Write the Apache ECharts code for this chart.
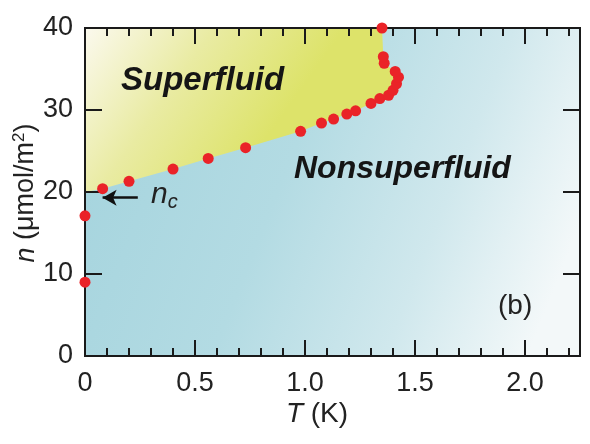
<!DOCTYPE html>
<html lang="en">

<head>
    <meta charset="UTF-8">
    <title>Superfluid phase diagram</title>
    <script src="https://cdn.jsdelivr.net/npm/echarts/dist/echarts.min.js"></script>
    <style>
        html, body { margin: 0; padding: 0; background: #fff; }
    </style>
</head>

<body>
    <div id="chart" style="width: 590px; height: 444px;"></div>
    <script>
        // measured points (T in K, n in umol/m2), in order along the boundary
        const tempK = [0, 0, 0.08, 0.2, 0.4, 0.56, 0.73, 0.98, 1.075, 1.13, 1.19, 1.23, 1.30, 1.34, 1.38, 1.40, 1.416, 1.425, 1.41, 1.36, 1.356, 1.35];
        const density = [9.0, 17.1, 20.4, 21.3, 22.8, 24.1, 25.4, 27.4, 28.4, 28.9, 29.5, 29.9, 30.8, 31.4, 31.8, 32.4, 33.2, 34.0, 34.7, 35.7, 36.5, 40.0];

        // superfluid region closes along the top edge and the left edge
        const regionStart = [0, 20];
        const regionTopLeft = [0, 40];

        // n_c arrow
        const arrowFrom = [0.24, 19.3];
        const arrowTo = [0.08, 19.3];

        // axis ranges and tick positions
        const xRange = [0, 2.25];
        const yRange = [0, 40];
        const xTickLabels = ['0', '0.5', '1.0', '1.5', '2.0'];
        const xMajorTicks = [0.5, 1.0, 1.5, 2.0];
        const xMinorTicks = [0.1, 0.2, 0.3, 0.4, 0.6, 0.7, 0.8, 0.9, 1.1, 1.2, 1.3, 1.4, 1.6, 1.7, 1.8, 1.9, 2.1, 2.2];
        const yMajorTicks = [10, 20, 30];

        const points = tempK.map((t, i) => [t, density[i]]);
        const boundary = points.filter(p => p[0] > 0);

        const font = '"Liberation Sans", Arial, Helvetica, sans-serif';
        const ink = '#1a1a1a';

        const chart = echarts.init(document.getElementById('chart'));

        // frame and inward ticks on all four sides, placed through the axes' scales
        function renderFrame(params, api) {
            const lo = api.coord([xRange[0], yRange[0]]);
            const hi = api.coord([xRange[1], yRange[1]]);
            const children = [];
            const seg = (x1, y1, x2, y2) => children.push({
                type: 'line',
                shape: { x1: x1, y1: y1, x2: x2, y2: y2 },
                style: { stroke: ink, lineWidth: 2 }
            });
            xMajorTicks.forEach(v => {
                const x = api.coord([v, 0])[0];
                seg(x, lo[1], x, lo[1] - 16);
                seg(x, hi[1], x, hi[1] + 16);
            });
            xMinorTicks.forEach(v => {
                const x = api.coord([v, 0])[0];
                seg(x, lo[1], x, lo[1] - 8);
                seg(x, hi[1], x, hi[1] + 8);
            });
            yMajorTicks.forEach(v => {
                const y = api.coord([0, v])[1];
                seg(lo[0], y, lo[0] + 17, y);
                seg(hi[0], y, hi[0] - 17, y);
            });
            children.push({
                type: 'rect',
                shape: { x: lo[0], y: hi[1], width: hi[0] - lo[0], height: lo[1] - hi[1] },
                style: { fill: null, stroke: ink, lineWidth: 2 }
            });
            return { type: 'group', children: children };
        }

        const options = {
            animation: false,
            grid: {
                left: 85, right: 10, top: 28, bottom: 88,
                show: true,
                borderWidth: 0,
                backgroundColor: new echarts.graphic.LinearGradient(0, 0, 1, 0.6, [
                    { offset: 0, color: '#a3d3dd' },
                    { offset: 0.45, color: '#b3dbe3' },
                    { offset: 0.75, color: '#d0e8ed' },
                    { offset: 1, color: '#f3f8f9' }
                ])
            },
            xAxis: {
                type: 'value', min: xRange[0], max: xRange[1], interval: 0.5,
                axisLine: { show: false },
                axisTick: { show: false },
                axisLabel: {
                    showMaxLabel: false, margin: 14, fontSize: 27, color: '#222', fontFamily: font,
                    formatter: v => xTickLabels[Math.round(v / 0.5)] || ''
                },
                splitLine: { show: false }
            },
            yAxis: {
                type: 'value', min: yRange[0], max: yRange[1], interval: 10,
                axisLine: { show: false },
                axisTick: { show: false },
                axisLabel: { margin: 12, fontSize: 27, color: '#222', fontFamily: font },
                splitLine: { show: false }
            },
            series: [
                {
                    // superfluid region, yellow
                    type: 'custom',
                    silent: true,
                    z: 1,
                    data: [0],
                    renderItem: function (params, api) {
                        const poly = [regionStart, ...boundary, regionTopLeft].map(p => api.coord(p));
                        return {
                            type: 'polygon',
                            shape: { points: poly },
                            style: {
                                fill: new echarts.graphic.LinearGradient(0, 0, 0.55, 0.75, [
                                    { offset: 0, color: '#fbf9ee' },
                                    { offset: 0.5, color: '#e9eba2' },
                                    { offset: 1, color: '#dde36a' }
                                ])
                            }
                        };
                    }
                },
                {
                    // plot frame with ticks
                    type: 'custom',
                    silent: true,
                    clip: false,
                    z: 4,
                    data: [0],
                    renderItem: renderFrame
                },
                {
                    type: 'scatter',
                    z: 5,
                    clip: false,
                    symbolSize: 11,
                    itemStyle: { color: '#ea2328', opacity: 1 },
                    data: points,
                    markLine: {
                        silent: true,
                        symbol: ['none', 'arrow'],
                        symbolSize: [12, 14],
                        label: { show: false },
                        lineStyle: { color: '#111', width: 2.5, type: 'solid' },
                        data: [[{ coord: arrowFrom }, { coord: arrowTo }]]
                    }
                }
            ],
            graphic: [
                {
                    type: 'text', left: 121, top: 64, z: 10,
                    style: { text: 'Superfluid', font: 'italic bold 33px ' + font, fill: '#151515' }
                },
                {
                    type: 'text', left: 294, top: 153, z: 10,
                    style: { text: 'Nonsuperfluid', font: 'italic bold 32px ' + font, fill: '#151515' }
                },
                {
                    type: 'text', left: 498, top: 292, z: 10,
                    style: { text: '(b)', font: '28px ' + font, fill: '#222' }
                },
                {
                    type: 'text', left: 151, top: 180, z: 10,
                    style: {
                        text: '{n|n}{c|c}',
                        rich: {
                            n: { font: 'italic 30px ' + font, fill: '#222', lineHeight: 34 },
                            c: { font: 'italic 20px ' + font, fill: '#222', lineHeight: 34, verticalAlign: 'bottom' }
                        }
                    }
                },
                {
                    // x axis title
                    type: 'text', x: 317, y: 414, z: 10,
                    style: {
                        text: '{i|T} (K)',
                        font: '28px ' + font, fill: '#222',
                        align: 'center', verticalAlign: 'middle',
                        rich: { i: { font: 'italic 28px ' + font, fill: '#222' } }
                    }
                },
                {
                    // y axis title
                    type: 'text', x: 26, y: 193, z: 10, rotation: Math.PI / 2,
                    style: {
                        text: '{i|n} (\u03bcmol/m{s|2})',
                        font: '27px ' + font, fill: '#222', lineHeight: 30,
                        align: 'center', verticalAlign: 'middle',
                        rich: {
                            i: { font: 'italic 27px ' + font, fill: '#222', lineHeight: 30 },
                            s: { font: '17px ' + font, fill: '#222', lineHeight: 30, verticalAlign: 'top' }
                        }
                    }
                }
            ]
        };

        chart.setOption(options);
    </script>
</body>

</html>
